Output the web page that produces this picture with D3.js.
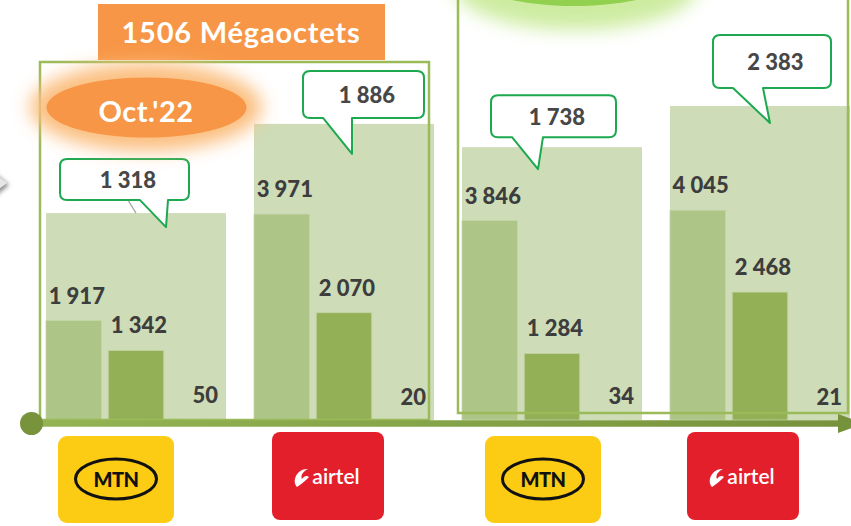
<!DOCTYPE html>
<html lang="fr">
<head>
    <meta charset="UTF-8">
    <title>Trafic data par opérateur</title>
    <style>
        body { margin: 0; padding: 0; background: #ffffff; overflow: hidden; }
        text { font-family: Lato, "Open Sans", sans-serif; }
    </style>
</head>
<body>
    <svg id="chart" width="851" height="526"></svg>
    <script src="https://d3js.org/d3.v7.min.js"></script>
    <script>
        // data
        const operators = ["MTN", "Airtel", "MTN", "Airtel"];
        const seriesA = [1917, 3971, 3846, 4045];   // light bar
        const seriesB = [1342, 2070, 1284, 2468];   // dark bar
        const seriesC = [50, 20, 34, 21];           // third slot, tiny
        const totals = [1318, 1886, 1738, 2383];    // wide back bar + callout
        const titleText = "1506 Mégaoctets";
        const periodText = "Oct.'22";

        // callout layout: tip x inside group, tip offset below bar top, box and tail relative to tip
        const calloutLayout = [
            { tipX: 120, tipDy: 14, bx: -106, by: -68, bw: 129, bh: 41, t1: -26, t2: 2 },
            { tipX: 98,  tipDy: 30, bx: -49,  by: -83, bw: 121, bh: 47, t1: -29, t2: 0 },
            { tipX: 76,  tipDy: 22, bx: -47,  by: -74, bw: 125, bh: 42, t1: -26, t2: 5 },
            { tipX: 100, tipDy: 17, bx: -57,  by: -88, bw: 118, bh: 53, t1: -37, t2: -7 }
        ];
        // logo shift from group centre
        const logoShift = [-20, -16, -9, -17];

        const BACK_COLOR = "#cedcb8";
        const A_COLOR = "#adc586";
        const B_COLOR = "#93b056";
        const LABEL_COLOR = "#3d3d3d";
        const FRAME_COLOR = "#9bbb59";
        const CALLOUT_COLOR = "#1ea84f";

        const baseline = 420;
        const svg = d3.select("#chart");
        const defs = svg.append("defs");

        defs.append("filter").attr("id", "blur")
            .attr("x", "-50%").attr("y", "-50%").attr("width", "200%").attr("height", "200%")
            .append("feGaussianBlur").attr("stdDeviation", 9);
        defs.append("filter").attr("id", "shadow")
            .attr("x", "-50%").attr("y", "-50%").attr("width", "200%").attr("height", "200%")
            .append("feGaussianBlur").attr("stdDeviation", 2);

        // user space units, the line has a zero-height bbox
        const axisGrad = defs.append("linearGradient").attr("id", "axisGrad")
            .attr("gradientUnits", "userSpaceOnUse")
            .attr("x1", 32).attr("y1", 0).attr("x2", 848).attr("y2", 0);
        axisGrad.append("stop").attr("offset", "0%").attr("stop-color", "#94b453");
        axisGrad.append("stop").attr("offset", "100%").attr("stop-color", "#76923c");

        const groups = d3.range(operators.length);

        const x0 = d3.scaleBand().domain(groups).range([46, 850]).paddingInner(0.1346);
        const x1 = d3.scaleBand().domain(["a", "b", "c"]).range([0, x0.bandwidth()]).paddingInner(0.108);
        const yBack = d3.scaleLinear().domain([0, 2000]).range([baseline, 106]).clamp(true);
        const yFront = d3.scaleLinear().domain([0, 6000]).range([baseline, 109]);

        // left chevron (cut by the page edge)
        svg.append("path")
            .attr("d", "M-8,171 L9,185 L-8,199 Z")
            .attr("fill", "#8c8c8c").attr("filter", "url(#shadow)");
        svg.append("path")
            .attr("d", "M-10,170 L7,183 L-10,196 Z")
            .attr("fill", "#e6e6e6");

        // green glow ellipse at the top of second frame
        svg.append("ellipse").attr("cx", 576).attr("cy", -14).attr("rx", 122).attr("ry", 44)
            .attr("fill", "#cdeca0").attr("filter", "url(#blur)");
        svg.append("ellipse").attr("cx", 574).attr("cy", -22).attr("rx", 100).attr("ry", 28)
            .attr("fill", "#92d050");

        // back bars
        svg.append("g").selectAll("rect")
            .data(groups)
            .join("rect")
            .attr("x", d => x0(d))
            .attr("width", x0.bandwidth())
            .attr("y", d => yBack(totals[d]))
            .attr("height", d => baseline - yBack(totals[d]))
            .attr("fill", BACK_COLOR);

        // front bars
        const series = [
            { key: "a", values: seriesA, color: A_COLOR },
            { key: "b", values: seriesB, color: B_COLOR },
            { key: "c", values: seriesC, color: BACK_COLOR }
        ];
        const cells = [];
        groups.forEach(g => series.forEach(s => cells.push({ g: g, key: s.key, v: s.values[g], color: s.color })));

        const bars = svg.append("g");
        bars.selectAll("rect")
            .data(cells)
            .join("rect")
            .attr("x", d => x0(d.g) + x1(d.key))
            .attr("width", x1.bandwidth())
            .attr("y", d => yFront(d.v))
            .attr("height", d => baseline - yFront(d.v))
            .attr("fill", d => d.color)
            .attr("stroke", d => d.key === "c" ? "none" : "#c4d4a6")
            .attr("stroke-width", 0.8);

        bars.selectAll("text")
            .data(cells)
            .join("text")
            .attr("x", d => d.key === "c" ? x0(d.g) + x1(d.key) + x1.bandwidth() - 8 : x0(d.g) + x1(d.key) + x1.bandwidth() / 2 + 3)
            .attr("y", d => yFront(d.v) - (d.key === "c" ? 14 : 17))
            .attr("text-anchor", d => d.key === "c" ? "end" : "middle")
            .attr("font-size", 22)
            .attr("font-weight", "900")
            .attr("fill", LABEL_COLOR)
            .text(d => d3.format(",")(d.v).replace(/,/g, " "));

        // frames
        svg.append("rect").attr("x", 40).attr("y", 62).attr("width", 389).attr("height", 358)
            .attr("fill", "none").attr("stroke", FRAME_COLOR).attr("stroke-width", 2.5);
        svg.append("rect").attr("x", 458).attr("y", -5).attr("width", 390).attr("height", 418)
            .attr("fill", "none").attr("stroke", FRAME_COLOR).attr("stroke-width", 2.5);

        // faint grey leader under the first callout
        const c0 = calloutLayout[0];
        const tip0 = { x: x0(0) + c0.tipX, y: yBack(totals[0]) + c0.tipDy };
        svg.append("line")
            .attr("x1", tip0.x + c0.bx + 68).attr("y1", tip0.y + c0.by + c0.bh)
            .attr("x2", tip0.x + c0.bx + 76).attr("y2", yBack(totals[0]))
            .attr("stroke", "#a6a6a6").attr("stroke-width", 1.2);

        // callouts
        function calloutPath(tx, ty, c) {
            const x = tx + c.bx, y = ty + c.by, w = c.bw, h = c.bh, r = 7;
            return `M${x + r},${y} H${x + w - r} Q${x + w},${y} ${x + w},${y + r} V${y + h - r}` +
                ` Q${x + w},${y + h} ${x + w - r},${y + h} H${tx + c.t2} L${tx},${ty} L${tx + c.t1},${y + h}` +
                ` H${x + r} Q${x},${y + h} ${x},${y + h - r} V${y + r} Q${x},${y} ${x + r},${y} Z`;
        }
        const callouts = svg.append("g").selectAll("g")
            .data(groups)
            .join("g");
        callouts.append("path")
            .attr("d", d => {
                const c = calloutLayout[d];
                return calloutPath(x0(d) + c.tipX, yBack(totals[d]) + c.tipDy, c);
            })
            .attr("fill", "#ffffff")
            .attr("stroke", CALLOUT_COLOR)
            .attr("stroke-width", 2)
            .attr("stroke-linejoin", "round");
        callouts.append("text")
            .attr("x", d => {
                const c = calloutLayout[d];
                return x0(d) + c.tipX + c.bx + c.bw / 2 + 3.5;
            })
            .attr("y", d => {
                const c = calloutLayout[d];
                return yBack(totals[d]) + c.tipDy + c.by + c.bh / 2 + 8.5;
            })
            .attr("text-anchor", "middle")
            .attr("font-size", 22)
            .attr("font-weight", "900")
            .attr("fill", "#474747")
            .text(d => d3.format(",")(totals[d]).replace(/,/g, " "));

        // title box
        svg.append("rect").attr("x", 98).attr("y", 4).attr("width", 287).attr("height", 56)
            .attr("fill", "#f79646");
        svg.append("text").attr("x", 241).attr("y", 43)
            .attr("text-anchor", "middle").attr("font-size", 29).attr("font-weight", "bold")
            .attr("letter-spacing", 0.8)
            .attr("fill", "#ffffff").text(titleText);

        // period ellipse with glow
        svg.append("ellipse").attr("cx", 146).attr("cy", 107).attr("rx", 116).attr("ry", 44)
            .attr("fill", "#fbbf80").attr("filter", "url(#blur)");
        svg.append("ellipse").attr("cx", 146.5).attr("cy", 107.5).attr("rx", 100).attr("ry", 30)
            .attr("fill", "#f79646");
        svg.append("text").attr("x", 146).attr("y", 122)
            .attr("text-anchor", "middle").attr("font-size", 29).attr("font-weight", "bold")
            .attr("letter-spacing", 0.5)
            .attr("fill", "#ffffff").text(periodText);

        // category axis
        const axis = svg.append("g")
            .attr("transform", `translate(0,${baseline + 3.5})`)
            .call(d3.axisBottom(x0).tickSize(0).tickFormat(""));
        axis.select(".domain")
            .attr("d", "M32,0 H848")
            .attr("stroke", "url(#axisGrad)")
            .attr("stroke-width", 6.5);
        svg.append("circle").attr("cx", 31.5).attr("cy", baseline + 3.5).attr("r", 11.5)
            .attr("fill", "#77933c");
        svg.append("path")
            .attr("d", `M838,${baseline - 6} L864,${baseline + 3.5} L838,${baseline + 13} Z`)
            .attr("fill", "#76923c");

        // operator logos
        const logos = svg.append("g").selectAll("g")
            .data(groups)
            .join("g")
            .attr("transform", d => `translate(${x0(d) + x0.bandwidth() / 2 + logoShift[d]},0)`);

        logos.filter(d => operators[d] === "MTN").each(function() {
            const g = d3.select(this);
            g.append("rect").attr("x", -58).attr("y", 436).attr("width", 116).attr("height", 87)
                .attr("rx", 9).attr("fill", "#fccb14");
            g.append("ellipse").attr("cx", 0).attr("cy", 479).attr("rx", 40.5).attr("ry", 20)
                .attr("fill", "none").attr("stroke", "#111111").attr("stroke-width", 3);
            g.append("text").attr("x", 0).attr("y", 487).attr("text-anchor", "middle")
                .attr("font-size", 20).attr("font-weight", "900").attr("fill", "#111111")
                .attr("font-family", "'DejaVu Sans', sans-serif").attr("letter-spacing", -0.5)
                .text("MTN");
        });

        logos.filter(d => operators[d] === "Airtel").each(function() {
            const g = d3.select(this);
            g.append("rect").attr("x", -56).attr("y", 432).attr("width", 112).attr("height", 88)
                .attr("rx", 8).attr("fill", "#e41f2c");
            g.append("path")
                .attr("d", "M-31,487 C-37,480 -30,468 -20,469 C-24,471 -28,475 -26,479 C-24,476 -21,475 -19,477 C-22,480 -26,484 -31,487 Z")
                .attr("fill", "#ffffff");
            g.append("text").attr("x", 8).attr("y", 484).attr("text-anchor", "middle")
                .attr("font-size", 21).attr("font-weight", "600").attr("fill", "#ffffff")
                .text("airtel");
        });
    </script>
</body>
</html>
